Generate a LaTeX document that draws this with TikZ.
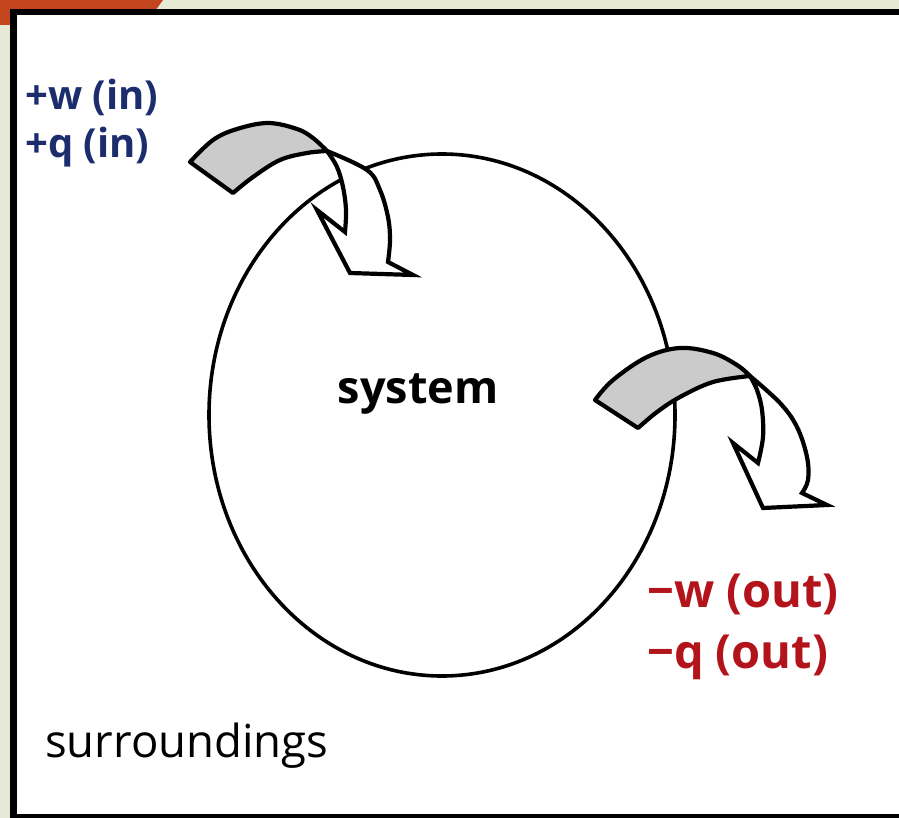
\documentclass[tikz,border=0pt]{standalone}
\usepackage{fontspec}
\usetikzlibrary{shapes.geometric}
\setmainfont{Open Sans}
\definecolor{bgbeige}{HTML}{E6E9D6}
\definecolor{slideorange}{HTML}{C2451E}
\definecolor{inblue}{HTML}{1C2D6E}
\definecolor{outred}{HTML}{B3141B}
\definecolor{bandgray}{HTML}{CBCBCB}
\begin{document}
\begin{tikzpicture}[x=1pt,y=-1pt,
  lbl/.style={inner sep=0pt,anchor=base west},
  inlbl/.style={lbl,text=inblue,font=\fontsize{40}{44}\selectfont\bfseries},
  outlbl/.style={lbl,text=outred,font=\fontsize{47}{50}\selectfont\bfseries},
  band/.style={fill=bandgray,draw=black,line width=4.2pt,line join=round},
  front/.style={fill=white,draw=black,line width=4.2pt,line join=miter},
]
\useasboundingbox (0,0) rectangle (899,818);
% slide background
\fill[bgbeige] (0,0) rectangle (899,818);
\fill[slideorange] (0,0) -- (163,0) -- (145,25) -- (0,25) -- cycle;
% frame
\draw[line width=6.5pt,fill=white] (13.5,12) rectangle (905,817);
% system boundary
\node[draw=black,line width=3.6pt,ellipse,minimum width=466pt,minimum height=522pt,inner sep=0pt] (sysb) at (442,415) {};
% incoming arrow
\path[band] plot[smooth,tension=0.6] coordinates {(190,162) (213,140) (237,129) (268,123) (297,129) (313,138) (327,151)}
  -- plot[smooth,tension=0.6] coordinates {(327,151) (307,153) (280,160) (253,177) (233,193)} -- cycle;
\path[front] plot[smooth,tension=0.6] coordinates {(327,151) (367,170) (380,190) (388,217) (390,240) (388,262)}
  -- (413,275) -- (350,273) -- (317,210) -- (345,232)
  -- plot[smooth,tension=0.6] coordinates {(345,232) (346,210) (343,187) (337,167) (327,151)} -- cycle;
% outgoing arrow
\path[band] plot[smooth,tension=0.6] coordinates {(595,400) (613,380) (647,357) (680,348) (713,353) (737,365) (750,376)}
  -- plot[smooth,tension=0.6] coordinates {(750,376) (713,382) (680,397) (657,412) (638,428)} -- cycle;
\path[front] plot[smooth,tension=0.6] coordinates {(750,376) (780,403) (797,427) (807,457) (808,480) (802,493)}
  -- (827,505) -- (763,508) -- (733,443) -- (758,463)
  -- plot[smooth,tension=0.6] coordinates {(758,463) (763,437) (762,410) (757,390) (750,376)} -- cycle;
% labels
\node[inlbl] (inw) at (25,110) {+w (in)};
\node[inlbl] (inq) at (25,158) {+q (in)};
\node[inner sep=0pt,anchor=base,font=\fontsize{45}{49}\selectfont\bfseries] (sys) at (418,403) {system};
\node[outlbl] (outw) at (647,607) {−w (out)};
\node[outlbl] (outq) at (647,668) {−q (out)};
\node[lbl,font=\fontsize{45.5}{49}\selectfont] (sur) at (45,757) {surroundings};
\end{tikzpicture}
\end{document}
